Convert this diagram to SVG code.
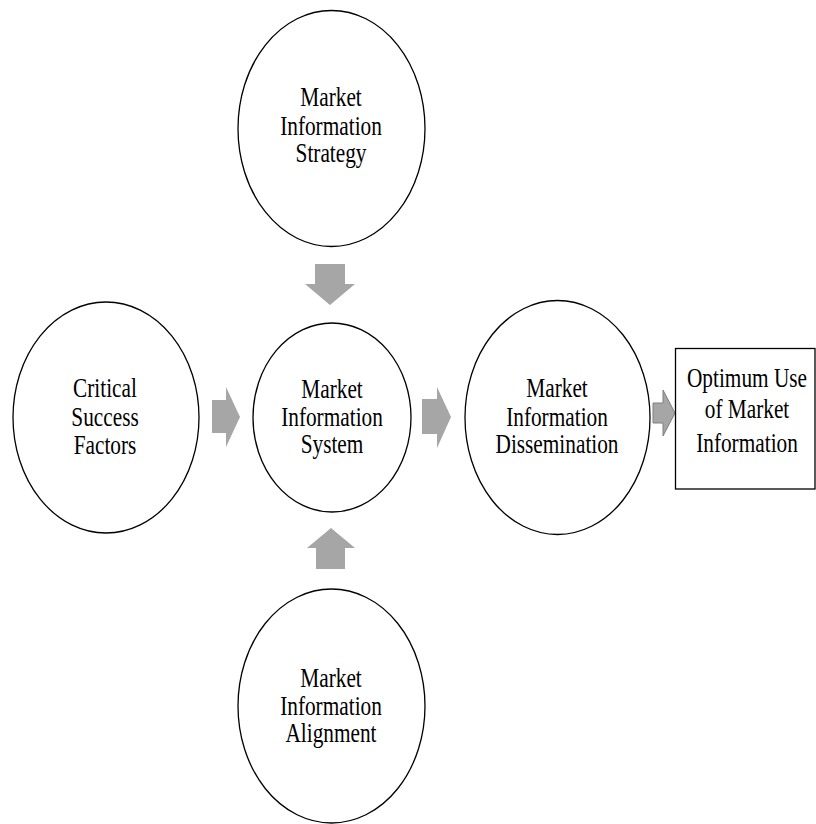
<svg xmlns="http://www.w3.org/2000/svg" width="816" height="824" viewBox="0 0 816 824">
  <style>
    .node { fill: #ffffff; stroke: #000000; stroke-width: 1.3; }
    .label { font-family: "Liberation Serif", "Times New Roman", serif; font-size: 21.3px; fill: #000000; text-anchor: middle; }
    .arrow { fill: #a6a6a6; stroke: none; }
    .arrow-small { fill: #a6a6a6; stroke: #7f7f7f; stroke-width: 1; }
  </style>
  <rect x="0" y="0" width="816" height="824" fill="#ffffff"/>

  <!-- block arrows between the nodes -->
  <g id="connectors">
    <!-- strategy -> system (down) -->
    <polygon class="arrow" points="315,264 345,264 345,284 355,284 330,305 305,284 315,284"/>
    <!-- alignment -> system (up) -->
    <polygon class="arrow" points="331,528 355,548 345,548 345,569 316,569 316,548 307,548"/>
    <!-- success factors -> system (right) -->
    <polygon class="arrow" points="212,400 226,400 226,387 240,417 226,447 226,433 212,433"/>
    <!-- system -> dissemination (right) -->
    <polygon class="arrow" points="422,399 437,399 437,387 451,417 437,448 437,434 422,434"/>
    <!-- dissemination -> optimum use (right) -->
    <polygon class="arrow-small" points="653,403 663,403 663,390 675,413 663,436 663,423 653,423"/>
  </g>

  <g id="strategy">
    <ellipse class="node" cx="331.5" cy="128.5" rx="93.5" ry="118"/>
    <g transform="translate(331,0) scale(1,1.25)">
      <text class="label" x="0" y="84.8">Market</text>
      <text class="label" x="0" y="108">Information</text>
      <text class="label" x="0" y="129.6">Strategy</text>
    </g>
  </g>

  <g id="system">
    <ellipse class="node" cx="332" cy="417.5" rx="79" ry="94.5"/>
    <g transform="translate(332,0) scale(1,1.25)">
      <text class="label" x="0" y="318.2">Market</text>
      <text class="label" x="0" y="340.8">Information</text>
      <text class="label" x="0" y="362.4">System</text>
    </g>
  </g>

  <g id="success-factors">
    <ellipse class="node" cx="106" cy="417.5" rx="93" ry="115.5"/>
    <g transform="translate(105,0) scale(1,1.25)">
      <text class="label" x="0" y="317.6">Critical</text>
      <text class="label" x="0" y="340.8">Success</text>
      <text class="label" x="0" y="363.2">Factors</text>
    </g>
  </g>

  <g id="dissemination">
    <ellipse class="node" cx="557.5" cy="417.5" rx="92.5" ry="117"/>
    <g transform="translate(557,0) scale(1,1.25)">
      <text class="label" x="0" y="317.6">Market</text>
      <text class="label" x="0" y="340.8">Information</text>
      <text class="label" x="0" y="362.4">Dissemination</text>
    </g>
  </g>

  <g id="alignment">
    <ellipse class="node" cx="331.5" cy="706" rx="93.5" ry="117"/>
    <g transform="translate(331,0) scale(1,1.25)">
      <text class="label" x="0" y="549.6">Market</text>
      <text class="label" x="0" y="572">Information</text>
      <text class="label" x="0" y="593.6">Alignment</text>
    </g>
  </g>

  <g id="optimum-use">
    <rect class="node" x="675.5" y="348.5" width="139.5" height="140.5"/>
    <g transform="translate(747,0) scale(1,1.25)">
      <text class="label" x="0" y="309.6">Optimum Use</text>
      <text class="label" x="0" y="334.4">of Market</text>
      <text class="label" x="0" y="361.6">Information</text>
    </g>
  </g>
</svg>
